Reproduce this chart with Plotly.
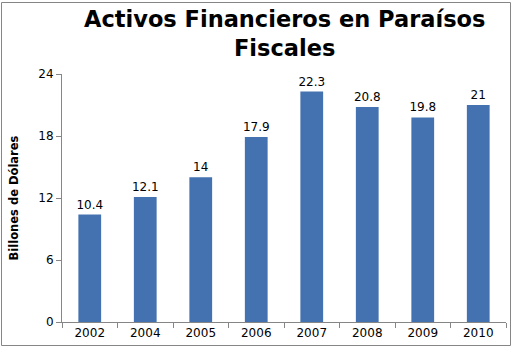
import plotly.graph_objects as go

years = ["2002", "2004", "2005", "2006", "2007", "2008", "2009", "2010"]
values = [10.4, 12.1, 14, 17.9, 22.3, 20.8, 19.8, 21]
labels = ["10.4", "12.1", "14", "17.9", "22.3", "20.8", "19.8", "21"]
y_ticks = [0, 6, 12, 18, 24]

L, R, T, B = 62, 9, 74, 31
W, H = 515, 353
pw, ph = W - L - R, H - T - B

def px(x):
    return (x - L) / pw

def py(y):
    return (H - B - y) / ph

fig = go.Figure(go.Bar(
    x=years, y=values, text=labels, textposition="outside",
    constraintext="none",
    textfont=dict(family="DejaVu Sans, Verdana", size=12, color="#000000"),
    marker=dict(color="#4472B0", line=dict(width=0)),
    cliponaxis=False,
))

fig.update_layout(
    width=W, height=H,
    margin=dict(l=L, r=R, t=T, b=B),
    paper_bgcolor="white", plot_bgcolor="white",
    bargap=0.59,
    showlegend=False,
    font=dict(family="DejaVu Sans, Verdana", size=12, color="#000000"),
    annotations=[dict(
        text="<b>Activos Financieros en Paraísos<br>Fiscales</b>",
        xref="paper", yref="paper", x=0.5, y=py(4), xanchor="center", yanchor="top",
        showarrow=False, font=dict(size=22.5, family="DejaVu Sans, Verdana"),
    )],
    shapes=[dict(
        type="rect", xref="paper", yref="paper",
        x0=px(1.5), x1=px(510.5), y0=py(345.5), y1=py(2.5),
        line=dict(color="#868686", width=1), fillcolor="rgba(0,0,0,0)", layer="below",
    )],
)

fig.update_xaxes(
    type="category", showline=True, linecolor="#868686", linewidth=1,
    ticks="outside", tickson="boundaries", ticklen=5, tickcolor="#868686",
    showgrid=False, tickfont=dict(size=12),
)
fig.update_yaxes(
    range=[0, 24], tickvals=y_ticks, showline=True, linecolor="#868686", linewidth=1,
    ticks="outside", ticklen=5, tickcolor="#868686", showgrid=False, zeroline=False,
    tickfont=dict(size=12),
    title=dict(text="<b>Billones de Dólares</b>", font=dict(size=11.5), standoff=17),
)

fig.write_html("out.html")
